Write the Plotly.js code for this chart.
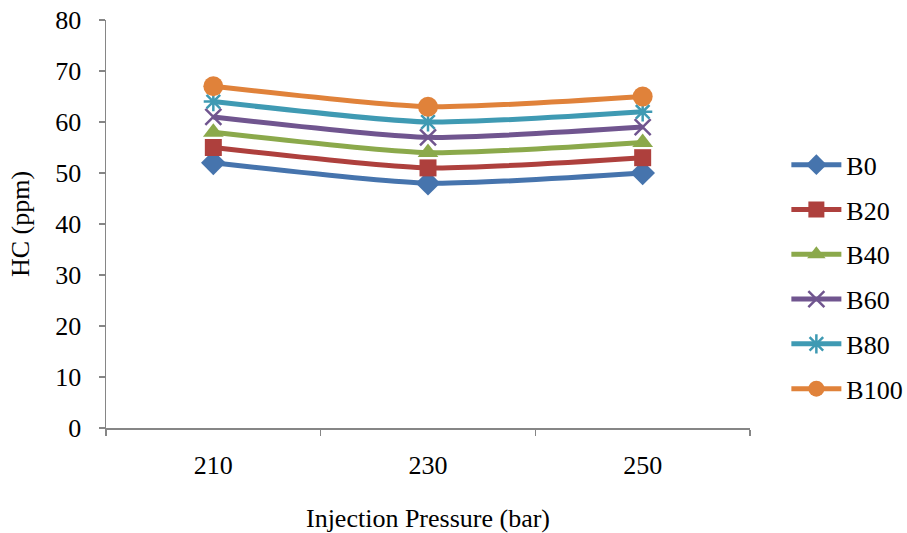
<!DOCTYPE html>
<html>
<head>
<meta charset="utf-8">
<script src="https://cdn.plot.ly/plotly-3.0.1.min.js"></script>
<style>html,body{margin:0;padding:0;background:#fff}#chart{width:907px;height:533px}</style>
</head>
<body>
<div id="chart"></div>
<script>
const pressures = ["210", "230", "250"];
const seriesNames = ["B0", "B20", "B40", "B60", "B80", "B100"];
const B0 = [52, 48, 50];
const B20 = [55, 51, 53];
const B40 = [58, 54, 56];
const B60 = [61, 57, 59];
const B80 = [64, 60, 62];
const B100 = [67, 63, 65];
const seriesValues = [B0, B20, B40, B60, B80, B100];

const colors = ["#4674AD", "#AE403D", "#8BA94B", "#70558F", "#3F9AB3", "#E0823A"];
const symbols = ["diamond", "square", "triangle-up", "x-thin-open", "asterisk-open", "circle"];
const sizes = [19, 17, 18, 16, 16, 20];

const traces = seriesValues.map((vals, i) => ({
  x: pressures,
  y: vals,
  name: seriesNames[i],
  type: "scatter",
  mode: "lines+markers",
  legendgroup: "g" + i,
  line: {color: colors[i], width: 5, shape: "spline", smoothing: 0.6},
  marker: {symbol: symbols[i], size: sizes[i], color: colors[i],
           line: {color: colors[i], width: (symbols[i].indexOf("open") >= 0) ? 2.5 : 0}}
}));

const font = {family: "Liberation Serif, Times New Roman, serif", size: 26, color: "#000"};

const layout = {
  width: 907, height: 533,
  margin: {l: 106, r: 157, t: 20, b: 105},
  paper_bgcolor: "#fff", plot_bgcolor: "#fff",
  font: font,
  showlegend: true,
  legend: {xref: "container", yref: "container", x: 0.867, xanchor: "left", y: 0.735, yanchor: "top",
           font: font, traceorder: "grouped", tracegroupgap: 8, itemwidth: 50,
           bgcolor: "rgba(0,0,0,0)"},
  xaxis: {
    type: "category", range: [-0.5, 2.5],
    showline: true, linecolor: "#868686", linewidth: 1.5,
    ticks: "outside", tickson: "boundaries", ticklen: 6, tickcolor: "#868686", tickwidth: 1.5,
    ticklabelstandoff: 13,
    showgrid: false, zeroline: false,
    tickfont: font,
    title: {text: "Injection Pressure (bar)", font: font, standoff: 30}
  },
  yaxis: {
    range: [0, 80], dtick: 10,
    showline: true, linecolor: "#868686", linewidth: 1.5,
    ticks: "outside", ticklen: 6, tickcolor: "#868686", tickwidth: 1.5,
    ticklabelstandoff: 12,
    showgrid: false, zeroline: false,
    tickfont: font,
    title: {text: "HC (ppm)", font: font, standoff: 18}
  }
};

Plotly.newPlot("chart", traces, layout, {displayModeBar: false, staticPlot: true});
</script>
</body>
</html>
